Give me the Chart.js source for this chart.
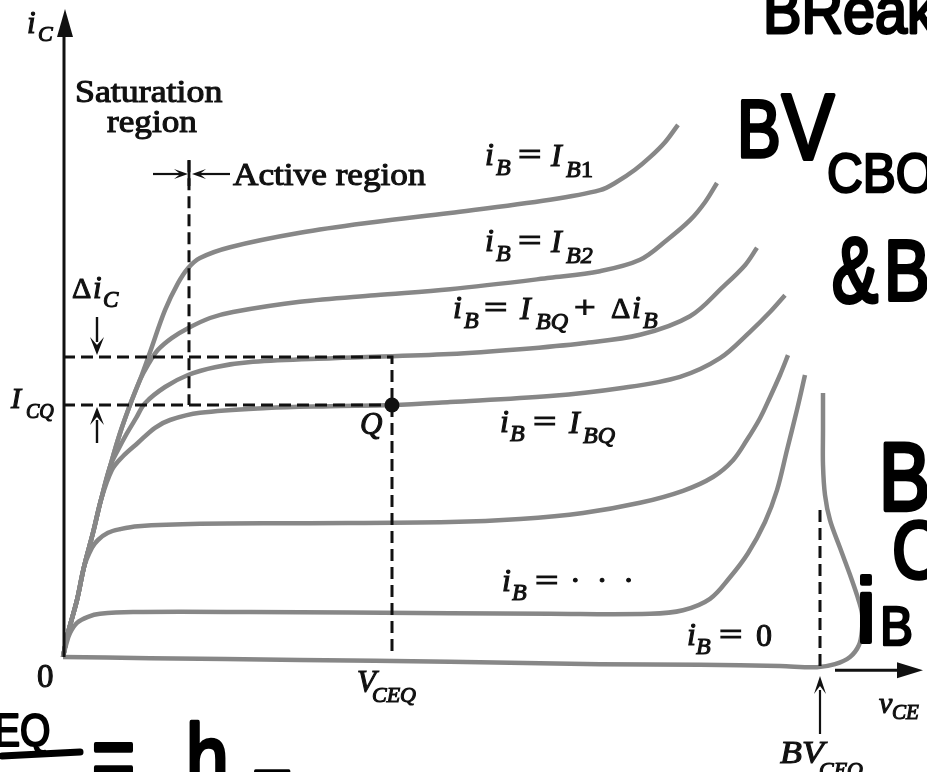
<!DOCTYPE html>
<html>
<head>
<meta charset="utf-8">
<script src="https://cdn.jsdelivr.net/npm/chart.js@4.4.0/dist/chart.umd.min.js"></script>
<style>
html, body { margin: 0; padding: 0; background: #fff; }
#wrap { width: 927px; height: 772px; }
</style>
</head>
<body>
<div id="wrap"><canvas id="myChart" width="927" height="772"></canvas></div>
<script>
// BJT output characteristics, i_C against v_CE, one array per base current
// points are [v_CE, i_C] in arbitrary units
var ibB1 = [[0,0],[0.5,4],[1.4,9.5],[2.1,15],[3.0,20.7],[3.8,26.2],[4.7,31.7],[5.7,37.3],[6.7,42],[7.7,46.2],[8.7,50.8],[10.2,57.8],[11.5,62.3],[12.5,64.8],[13.7,66.5],[16.7,68.3],[23.7,70.7],[31.2,72.5],[38.7,74],[48.7,76.2],[53.7,77.8],[55.4,79.2],[57.2,81.2],[58.7,83.3],[60.2,85.8],[61.5,88.7]];
var ibB2 = [[0,0],[0.5,4],[1.4,9.5],[2.1,15],[3.0,20.7],[3.8,26.2],[4.7,31.7],[5.7,37.3],[6.7,42],[7.7,46.2],[8.5,48.7],[9.5,51.2],[10.9,53.2],[12.5,54.8],[14.7,56.5],[17,57.5],[23.7,59.2],[31.2,60.3],[38.7,61.3],[48.7,63.2],[53.7,64.3],[57.7,66.2],[60.4,69.5],[62.7,72.8],[64.2,75.8],[65.4,79]];
var ibQplus = [[0,0],[0.5,4],[1.4,9.5],[2.1,15],[3.0,20.7],[3.8,26.2],[4.7,31.7],[5.5,34.5],[6.4,37.3],[7.3,39.8],[8.2,42.3],[10.2,45],[12.5,47],[15.2,48.3],[19,49.2],[27,49.8],[38.7,50.5],[45.7,51.3],[52,52.3],[57.7,53.7],[62.7,56.8],[66,61.7],[68.2,65.3],[69.4,68.2]];
var ibQ = [[0,0],[0.5,4],[1.4,9.5],[2.1,15],[3.0,20.7],[3.8,26.2],[4.9,31.2],[5.9,33.3],[7.5,35.7],[9.2,38.2],[10.7,39.5],[13.7,40.7],[20.4,41.5],[26.7,41.8],[32.9,42],[38.7,42.5],[48.7,43.5],[55.7,44.8],[61.7,46.7],[65.7,49.8],[68.7,54.2],[70.7,57.5],[72.2,60.3]];
var ibLow1 = [[0,0],[0.5,4],[1.4,9.5],[2.1,15],[2.9,18.2],[3.5,19.5],[4.5,20.7],[5.7,21.3],[7.5,21.8],[13.7,22.2],[23.7,22.3],[38.7,22.5],[45.7,23],[52,24],[57.7,25.7],[62,27.7],[65,30],[67,32.8],[68.4,36.2],[69.7,39.8],[70.7,43.3],[71.7,47],[72.5,50.3]];
var ibLow2 = [[0,0],[0.3,2],[0.7,4],[1.4,5.7],[2.5,6.7],[3.7,7.2],[7,7.5],[18.7,7.5],[38.7,7.3],[48.7,7.2],[58.7,7.2],[62,7.8],[64.7,9.7],[66.7,13.3],[68.5,17.3],[70.2,22.5],[71.4,27.8],[72.4,34.5],[73.4,41.2],[74.2,47]];
var ibZero = [[0,0],[8.7,-0.2],[23.7,-0.5],[38.7,-0.8],[53.7,-1.2],[63.7,-1.3],[71.7,-1.5],[75.4,-1.7],[77.2,-1.2],[78.7,0],[79.6,2],[79.9,4.5],[79.9,7.3],[79.4,10.3],[78.7,13.7],[77.7,18.2],[76.7,22.8],[76.2,27],[76,32],[76,37.8],[76,44]];

// operating point and guide values
var VCEQ = 32.9, ICQ = 42, ICQ_UP = 50;
var VSAT = 12.6, VSAT_TOP = 82.8;
var BVCEO = 75.7, BVCEO_TOP = 24.5, BVCEO_LOW = -1.7;

var SERIF = '"Liberation Serif", serif';
var HAND = '"Liberation Sans", sans-serif';

function pts(arr) {
    return arr.map(function (p) { return { x: p[0], y: p[1] }; });
}

function curve(arr) {
    return {
        data: pts(arr), showLine: true, borderColor: '#878787', borderWidth: 4.5,
        pointRadius: 0, tension: 0.35, clip: false, order: 2
    };
}

function dashed(arr) {
    return {
        data: pts(arr), showLine: true, borderColor: '#111', borderWidth: 3,
        borderDash: [12, 6], pointRadius: 0, tension: 0, clip: false, order: 1
    };
}

function put(ctx, s, x, y, font, sx) {
    ctx.save();
    ctx.font = font;
    ctx.translate(x, y);
    ctx.scale(sx || 1, 1);
    ctx.fillText(s, 0, 0);
    ctx.lineWidth = 1.1;
    ctx.strokeText(s, 0, 0);
    ctx.restore();
}

function hand(ctx, s, x, y, size, sx) {
    ctx.save();
    ctx.font = size + 'px ' + HAND;
    ctx.translate(x, y);
    ctx.scale(sx || 1, 1);
    ctx.lineWidth = size * 0.045;
    ctx.lineJoin = 'round';
    ctx.lineCap = 'round';
    ctx.strokeText(s, 0, 0);
    ctx.fillText(s, 0, 0);
    ctx.restore();
}

function head(ctx, tx, ty, a, len, half, notch) {
    ctx.save();
    ctx.translate(tx, ty);
    ctx.rotate(a);
    ctx.beginPath();
    ctx.moveTo(0, 0);
    ctx.lineTo(-len, -half);
    ctx.lineTo(-len * notch, 0);
    ctx.lineTo(-len, half);
    ctx.closePath();
    ctx.fill();
    ctx.restore();
}

function seg(ctx, x1, y1, x2, y2, w) {
    ctx.beginPath();
    ctx.lineWidth = w;
    ctx.moveTo(x1, y1);
    ctx.lineTo(x2, y2);
    ctx.stroke();
}

var it = function (n) { return 'italic ' + n + 'px ' + SERIF; };
var rm = function (n) { return n + 'px ' + SERIF; };

var annotations = {
    id: 'annotations',
    afterDatasetsDraw: function (chart) {
        var ctx = chart.ctx;
        var X = function (v) { return chart.scales.x.getPixelForValue(v); };
        var Y = function (i) { return chart.scales.y.getPixelForValue(i); };
        ctx.save();
        ctx.fillStyle = '#111';
        ctx.strokeStyle = '#111';
        ctx.textBaseline = 'alphabetic';

        // vertical axis with arrow
        var ax = X(0) + 1;
        seg(ctx, ax, Y(0), ax, 30, 3);
        head(ctx, ax + 1, 9, -Math.PI / 2, 28, 8, 1);
        // horizontal axis arrow beyond breakdown
        seg(ctx, X(77.2), Y(-2.2), 905, Y(-2.2), 3);
        head(ctx, 923, Y(-2.2), 0, 26, 8, 1);

        // active / saturation boundary marker
        seg(ctx, 153, 174, 182, 174, 2.2);
        head(ctx, 188, 174, 0, 14, 5, 0.55);
        seg(ctx, 230, 174, 198, 174, 2.2);
        head(ctx, 192, 174, Math.PI, 14, 5, 0.55);
        seg(ctx, X(VSAT), 160, X(VSAT), 186, 2.8);

        // delta i_C arrows
        seg(ctx, 97, 317, 97, 342, 2.4);
        head(ctx, 97, Y(ICQ_UP) - 2, Math.PI / 2, 18, 7, 0.55);
        seg(ctx, 97, 443, 97, 420, 2.4);
        head(ctx, 97, Y(ICQ) + 2, -Math.PI / 2, 18, 7, 0.55);

        // BV_CEO arrow
        seg(ctx, X(BVCEO), 734, X(BVCEO), 690, 2.2);
        head(ctx, X(BVCEO), 676, -Math.PI / 2, 18, 6, 0.55);

        // Q point
        ctx.beginPath();
        ctx.arc(X(VCEQ), Y(ICQ), 7.5, 0, Math.PI * 2);
        ctx.fill();

        // axis and region labels
        put(ctx, 'i', 27, 33, it(31));
        put(ctx, 'C', 38, 41, it(22));
        put(ctx, 'Saturation', 75, 102, rm(32), 1.12);
        put(ctx, 'region', 107, 132, rm(32), 1.1);
        put(ctx, 'Active region', 233, 185, rm(32), 1.1);
        put(ctx, '\u0394', 72, 298, rm(30));
        put(ctx, 'i', 93, 298, it(31));
        put(ctx, 'C', 103, 307, it(23));
        put(ctx, 'I', 11, 408, it(30));
        put(ctx, 'CQ', 26, 418, it(20));
        put(ctx, 'Q', 360, 434, it(31));
        put(ctx, '0', 37, 687, rm(33));
        put(ctx, 'V', 357, 692, it(31));
        put(ctx, 'CEQ', 372, 702, it(22));
        put(ctx, 'BV', 780, 763, it(32), 1.12);
        put(ctx, 'CEO', 819, 777, it(22));
        put(ctx, 'v', 879, 713, it(30));
        put(ctx, 'CE', 892, 719, it(21));

        // base current labels
        put(ctx, 'i', 485, 165, it(32));
        put(ctx, 'B', 496, 175, it(24));
        put(ctx, '=', 518, 165, rm(32), 1.3);
        put(ctx, 'I', 551, 166, it(32));
        put(ctx, 'B', 566, 177, it(24));
        put(ctx, '1', 581, 177, rm(24));

        put(ctx, 'i', 485, 251, it(32));
        put(ctx, 'B', 496, 261, it(24));
        put(ctx, '=', 518, 251, rm(32), 1.3);
        put(ctx, 'I', 551, 252, it(32));
        put(ctx, 'B2', 566, 263, it(24));

        put(ctx, 'i', 453, 318, it(32));
        put(ctx, 'B', 464, 328, it(24));
        put(ctx, '=', 484, 318, rm(32), 1.3);
        put(ctx, 'I', 520, 319, it(32));
        put(ctx, 'BQ', 536, 329, it(24));
        put(ctx, '+', 574, 318, rm(32), 1.2);
        put(ctx, '\u0394', 611, 318, rm(30));
        put(ctx, 'i', 632, 318, it(32));
        put(ctx, 'B', 643, 328, it(24));

        put(ctx, 'i', 500, 432, it(32));
        put(ctx, 'B', 510, 441, it(24));
        put(ctx, '=', 533, 432, rm(32), 1.3);
        put(ctx, 'I', 569, 433, it(32));
        put(ctx, 'BQ', 583, 443, it(24));

        put(ctx, 'i', 502, 591, it(32));
        put(ctx, 'B', 512, 600, it(24));
        put(ctx, '=', 535, 591, rm(32), 1.3);
        put(ctx, '\u00b7  \u00b7  \u00b7', 570, 591, rm(32));

        put(ctx, 'i', 687, 645, it(32));
        put(ctx, 'B', 696, 654, it(24));
        put(ctx, '=', 719, 645, rm(32), 1.3);
        put(ctx, '0', 756, 646, rm(32));

        // handwritten notes
        ctx.fillStyle = '#000';
        ctx.strokeStyle = '#000';
        hand(ctx, 'BReak', 763, 33, 64, 0.9);
        hand(ctx, 'B', 737, 157, 82, 0.8);
        hand(ctx, 'V', 782, 159, 92, 0.85);
        hand(ctx, 'CBO', 827, 192, 55, 0.9);
        hand(ctx, '&', 832, 302, 92, 0.75);
        hand(ctx, 'B', 884, 300, 86, 0.8);
        hand(ctx, 'B', 879, 510, 96, 0.8);
        hand(ctx, 'C', 892, 578, 82, 0.85);
        hand(ctx, 'i', 856, 642, 90, 1);
        hand(ctx, 'B', 880, 645, 55, 0.9);
        hand(ctx, 'EQ', -6, 746, 46, 0.85);
        ctx.lineCap = 'round';
        seg(ctx, 2, 756, 80, 752, 7);
        hand(ctx, '=', 92, 790, 92, 0.8);
        hand(ctx, 'h', 186, 792, 96, 0.8);
        hand(ctx, 'F', 250, 826, 80, 0.85);

        ctx.restore();
    }
};

var ctx = document.getElementById('myChart').getContext('2d');
var myChart = new Chart(ctx, {
    type: 'scatter',
    data: {
        datasets: [
            curve(ibB1), curve(ibB2), curve(ibQplus), curve(ibQ),
            curve(ibLow1), curve(ibLow2), curve(ibZero),
            dashed([[0, ICQ_UP], [VCEQ, ICQ_UP], [VCEQ, ICQ]]),
            dashed([[0, ICQ], [VCEQ, ICQ]]),
            dashed([[VCEQ, ICQ], [VCEQ, 0]]),
            dashed([[VSAT, VSAT_TOP], [VSAT, ICQ]]),
            dashed([[BVCEO, BVCEO_TOP], [BVCEO, BVCEO_LOW]])
        ]
    },
    options: {
        responsive: false,
        animation: false,
        devicePixelRatio: 1,
        layout: { padding: { left: 63, right: 2, top: 27, bottom: 97 } },
        scales: {
            x: { type: 'linear', min: 0, max: 86.2, display: false },
            y: { type: 'linear', min: -3, max: 105, display: false }
        },
        plugins: { legend: { display: false }, tooltip: { enabled: false } }
    },
    plugins: [annotations]
});
</script>
</body>
</html>
